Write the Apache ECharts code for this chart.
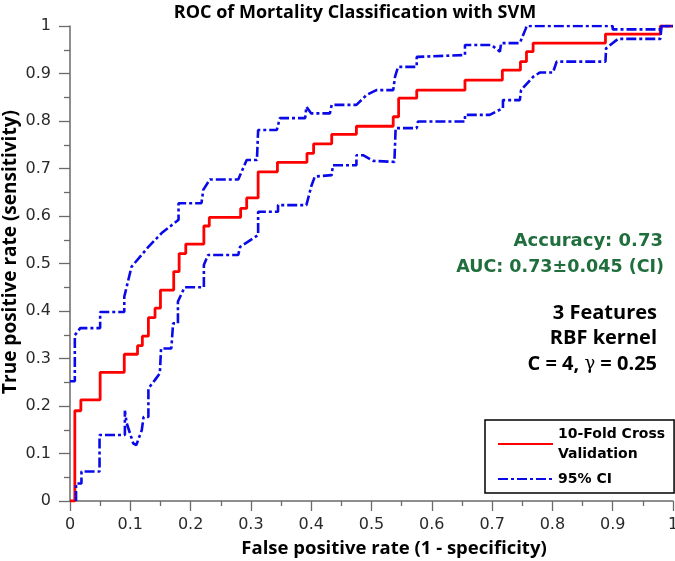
<!DOCTYPE html>
<html>
<head>
<meta charset="utf-8">
<script src="https://cdn.jsdelivr.net/npm/echarts@6/dist/echarts.min.js"></script>
<style>html,body{margin:0;padding:0;background:#fff}#c{width:675px;height:561px}</style>
</head>
<body>
<div id="c"></div>
<script>
// ROC curve, 10-fold cross validation (step vertices: horizontal move then rise)
const fpr = [0, 0.008, 0.018, 0.05, 0.09, 0.112, 0.12, 0.13, 0.141, 0.15, 0.172, 0.181, 0.192, 0.222, 0.231, 0.283, 0.293, 0.312, 0.344, 0.393, 0.404, 0.434, 0.475, 0.536, 0.545, 0.575, 0.655, 0.717, 0.747, 0.757, 0.768, 0.888, 0.979, 1];
const tpr = [0, 0.19, 0.213, 0.271, 0.309, 0.327, 0.347, 0.386, 0.406, 0.444, 0.483, 0.521, 0.541, 0.579, 0.597, 0.616, 0.638, 0.693, 0.713, 0.732, 0.752, 0.772, 0.789, 0.809, 0.848, 0.865, 0.886, 0.907, 0.925, 0.946, 0.964, 0.983, 1, 1];
// 95% CI upper bound
const upperX = [0, 0.008, 0.008, 0.017, 0.05, 0.05, 0.09, 0.09, 0.102, 0.13, 0.152, 0.18, 0.18, 0.218, 0.221, 0.232, 0.279, 0.293, 0.31, 0.312, 0.343, 0.348, 0.39, 0.392, 0.40, 0.431, 0.434, 0.475, 0.492, 0.508, 0.536, 0.539, 0.544, 0.575, 0.575, 0.655, 0.655, 0.699, 0.713, 0.715, 0.746, 0.756, 0.757, 0.9, 0.9, 0.98, 0.98, 1];
const upperY = [0.252, 0.252, 0.349, 0.364, 0.364, 0.398, 0.398, 0.43, 0.493, 0.535, 0.564, 0.592, 0.627, 0.627, 0.655, 0.677, 0.677, 0.718, 0.718, 0.781, 0.781, 0.806, 0.806, 0.83, 0.816, 0.816, 0.834, 0.834, 0.855, 0.865, 0.865, 0.893, 0.914, 0.914, 0.935, 0.939, 0.96, 0.96, 0.946, 0.964, 0.964, 0.995, 1, 1, 0.993, 0.993, 1, 1];
// 95% CI lower bound
const lowerX = [0.01, 0.01, 0.019, 0.019, 0.049, 0.049, 0.091, 0.091, 0.094, 0.105, 0.11, 0.119, 0.122, 0.13, 0.13, 0.141, 0.149, 0.151, 0.168, 0.171, 0.179, 0.179, 0.19, 0.222, 0.222, 0.229, 0.279, 0.282, 0.312, 0.312, 0.345, 0.345, 0.392, 0.40, 0.406, 0.434, 0.436, 0.475, 0.475, 0.486, 0.503, 0.538, 0.54, 0.575, 0.577, 0.655, 0.655, 0.696, 0.718, 0.718, 0.746, 0.748, 0.768, 0.779, 0.801, 0.807, 0.888, 0.889, 0.909, 0.979, 0.981, 1];
const lowerY = [0, 0.037, 0.037, 0.062, 0.062, 0.139, 0.139, 0.19, 0.164, 0.121, 0.118, 0.149, 0.177, 0.177, 0.237, 0.255, 0.269, 0.321, 0.321, 0.374, 0.374, 0.42, 0.45, 0.45, 0.497, 0.518, 0.518, 0.535, 0.56, 0.609, 0.609, 0.623, 0.623, 0.662, 0.683, 0.686, 0.707, 0.707, 0.728, 0.728, 0.716, 0.714, 0.785, 0.785, 0.799, 0.799, 0.813, 0.813, 0.827, 0.844, 0.844, 0.865, 0.893, 0.902, 0.902, 0.925, 0.925, 0.953, 0.973, 0.973, 1, 1];
// tick labels
const tickLabels = ['0', '0.1', '0.2', '0.3', '0.4', '0.5', '0.6', '0.7', '0.8', '0.9', '1'];
// texts
const titleText = 'ROC of Mortality Classification with SVM';
const xName = 'False positive rate (1 - specificity)';
const yName = 'True positive rate (sensitivity)';
const seriesNames = ['10-Fold Cross\nValidation', '95% CI'];
const greenLines = ['Accuracy: 0.73', 'AUC: 0.73\u00b10.045 (CI)'];
const blackLines = ['3 Features', 'RBF kernel'];

const pairs = (xs, ys) => xs.map((x, i) => [x, ys[i]]);
const lbl = v => tickLabels[Math.round(v * 10)];

const axisCommon = {
  type: 'value', min: 0, max: 1, interval: 0.1,
  axisLine: { show: true, lineStyle: { color: '#6a6a6a', width: 1.5 } },
  splitLine: { show: false },
  axisLabel: { formatter: lbl, color: '#2a2a2a', fontFamily: 'DejaVu Sans', fontSize: 16, hideOverlap: false, showMaxLabel: true, showMinLabel: true }
};
const boldSans = (size) => 'bold ' + size + 'px "Open Sans"';

const chart = echarts.init(document.getElementById('c'), null, { renderer: 'canvas' });
chart.setOption({
  animation: false,
  backgroundColor: '#fff',
  title: {
    text: titleText, left: 350, top: -1, textAlign: 'center',
    textStyle: { fontFamily: 'Open Sans', fontWeight: 'bold', fontSize: 18, color: '#000' }
  },
  grid: { left: 70, right: 2, top: 26, bottom: 60, containLabel: false, outerBoundsMode: 'none' },
  xAxis: Object.assign({}, axisCommon, {
    axisTick: { show: true, inside: false, length: 10, lineStyle: { color: '#6a6a6a', width: 1.3 } },
    minorTick: { show: true, splitNumber: 2, length: 5, lineStyle: { color: '#6a6a6a', width: 1.3 } },
    axisLabel: Object.assign({}, axisCommon.axisLabel, { margin: 16 })
  }),
  yAxis: Object.assign({}, axisCommon, {
    axisTick: { show: true, inside: false, length: 11, lineStyle: { color: '#6a6a6a', width: 1.3 } },
    minorTick: { show: true, splitNumber: 2, length: 6, lineStyle: { color: '#6a6a6a', width: 1.3 } },
    axisLabel: Object.assign({}, axisCommon.axisLabel, { margin: 19 })
  }),
  legend: {
    data: seriesNames,
    orient: 'vertical', left: 485, top: 420,
    padding: [4, 9, 4, 12], itemGap: 5, itemWidth: 55, itemHeight: 14,
    itemStyle: { opacity: 0 },
    borderColor: '#000', borderWidth: 1.5, backgroundColor: '#fff',
    textStyle: { fontFamily: 'DejaVu Sans', fontWeight: 'bold', fontSize: 14, lineHeight: 20, color: '#000' }
  },
  graphic: [
    { type: 'text', x: 394, y: 549, style: { text: xName, align: 'center', verticalAlign: 'middle', fill: '#000', font: boldSans(18.5) } },
    { type: 'text', x: 11, y: 252, rotation: Math.PI / 2, style: { text: yName, align: 'center', verticalAlign: 'middle', fill: '#000', font: boldSans(19) } },
    { type: 'text', x: 663, y: 241, style: { text: greenLines[0], align: 'right', verticalAlign: 'middle', fill: '#1f6e3c', font: 'bold 18px "DejaVu Sans"' } },
    { type: 'text', x: 664, y: 267, style: { text: greenLines[1], align: 'right', verticalAlign: 'middle', fill: '#1f6e3c', font: 'bold 17.5px "DejaVu Sans"' } },
    { type: 'text', x: 657, y: 313, style: { text: blackLines[0], align: 'right', verticalAlign: 'middle', fill: '#000', font: boldSans(20) } },
    { type: 'text', x: 657, y: 338, style: { text: blackLines[1], align: 'right', verticalAlign: 'middle', fill: '#000', font: boldSans(20) } },
    { type: 'text', x: 657, y: 364, style: {
        text: '{b|C = 4, }{g|\u03b3}{b| = 0.25}', align: 'right', verticalAlign: 'middle',
        rich: {
          b: { fontFamily: 'Open Sans', fontWeight: 'bold', fontSize: 20, fill: '#000', color: '#000' },
          g: { fontFamily: 'DejaVu Serif', fontWeight: 'normal', fontSize: 18, fill: '#000', color: '#000' }
        } } }
  ],
  series: [
    {
      name: seriesNames[0], type: 'line', step: 'end', showSymbol: false, symbol: 'none',
      data: pairs(fpr, tpr), z: 3,
      lineStyle: { color: '#ff0000', width: 2.8 }, itemStyle: { color: '#ff0000' }
    },
    {
      name: seriesNames[1], type: 'line', showSymbol: false, symbol: 'none',
      data: pairs(upperX, upperY), z: 4,
      lineStyle: { color: '#0a0ae8', width: 2.6, type: [10, 3, 3, 3] }, itemStyle: { color: '#0a0ae8' }
    },
    {
      name: seriesNames[1], type: 'line', showSymbol: false, symbol: 'none',
      data: pairs(lowerX, lowerY), z: 4,
      lineStyle: { color: '#0a0ae8', width: 2.6, type: [10, 3, 3, 3] }, itemStyle: { color: '#0a0ae8' }
    }
  ]
});
</script>
</body>
</html>
